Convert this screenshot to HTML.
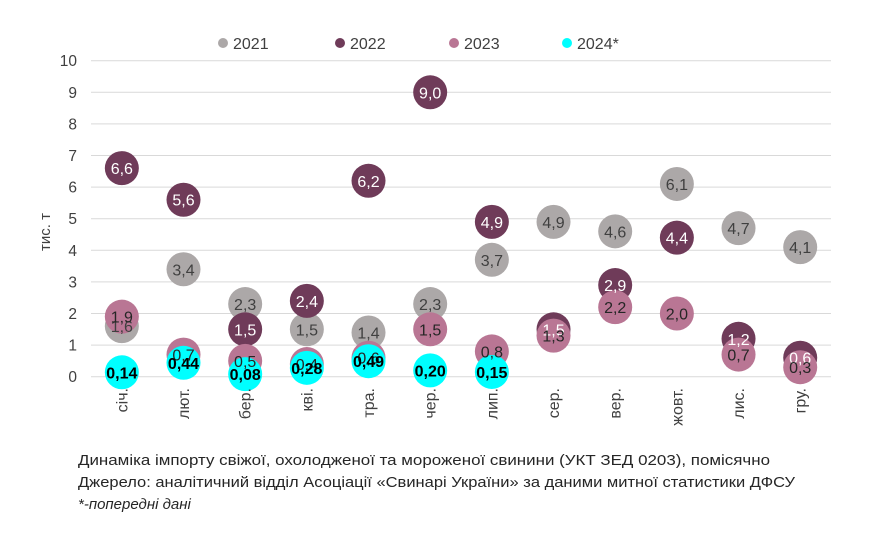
<!DOCTYPE html>
<html><head><meta charset="utf-8"><style>
body{margin:0;background:#fff}
svg{display:block;font-family:"Liberation Sans",sans-serif}
</style></head><body>
<svg id="s" width="879" height="548" xmlns="http://www.w3.org/2000/svg"></svg>
<script>
const s=document.getElementById('s');
let h='';
const y0=376.7,u=31.6,x0=91,cw=61.67;
for(let i=0;i<=10;i++){const y=y0-i*u;
h+=`<line x1="91" x2="831" y1="${y}" y2="${y}" stroke="#d9d9d9" stroke-width="1"/>`;
h+=`<text x="77" y="${y+5.5}" font-size="15.5" fill="#404040" text-anchor="end">${i}</text>`;}
h+=`<text transform="translate(50,232) rotate(-90)" font-size="15" fill="#404040" text-anchor="middle">тис. т</text>`;
const m=['січ.','лют.','бер.','кві.','тра.','чер.','лип.','сер.','вер.','жовт.','лис.','гру.'];
const d=[[1.6,6.6,1.9,0.14],[3.4,5.6,0.7,0.44],[2.3,1.5,0.5,0.08],[1.5,2.4,0.4,0.28],[1.4,6.2,0.6,0.49],[2.3,9.0,1.5,0.20],[3.7,4.9,0.8,0.15],[4.9,1.5,1.3,null],[4.6,2.9,2.2,null],[6.1,4.4,2.0,null],[4.7,1.2,0.7,null],[4.1,0.6,0.3,null]];
const col=['#aca8a8','#6f3b59','#b97694','#00ffff'];
const tc=['#404040','#ffffff','#262626','#000000'];
let lab='';
for(let s2=0;s2<4;s2++)for(let i=0;i<12;i++){const v=d[i][s2];if(v==null)continue;
const x=x0+cw*(i+0.5),y=y0-v*u;
h+=`<circle cx="${x}" cy="${y}" r="17" fill="${col[s2]}"/>`;
const t=s2==3?v.toFixed(2).replace('.',','):v.toFixed(1).replace('.',',');
lab+=`<text x="${x}" y="${y+6}" font-size="16" fill="${tc[s2]}" text-anchor="middle"${s2==3?' font-weight="bold"':''}>${t}</text>`;}
h+=lab;
m.forEach((t,i)=>{const x=x0+cw*(i+0.5);
h+=`<text transform="translate(${x+5.5},388) rotate(-90)" font-size="16" fill="#404040" text-anchor="end">${t}</text>`;});
const lg=[[223,'2021'],[340,'2022'],[454,'2023'],[567,'2024*']];
lg.forEach((l,i)=>{h+=`<circle cx="${l[0]}" cy="43" r="5" fill="${col[i]}"/><text x="${l[0]+10}" y="49" font-size="16" fill="#404040">${l[1]}</text>`;});
h+=`<text x="78" y="465" font-size="15" fill="#262626" textLength="692" lengthAdjust="spacingAndGlyphs">Динаміка імпорту свіжої, охолодженої та мороженої свинини (УКТ ЗЕД 0203), помісячно</text>`;
h+=`<text x="78" y="487" font-size="15" fill="#262626" textLength="717" lengthAdjust="spacingAndGlyphs">Джерело: аналітичний відділ Асоціації «Свинарі України» за даними митної статистики ДФСУ</text>`;
h+=`<text x="78" y="509" font-size="15" fill="#262626" font-style="italic">*-попередні дані</text>`;
s.innerHTML=h;
</script>
</body></html>
